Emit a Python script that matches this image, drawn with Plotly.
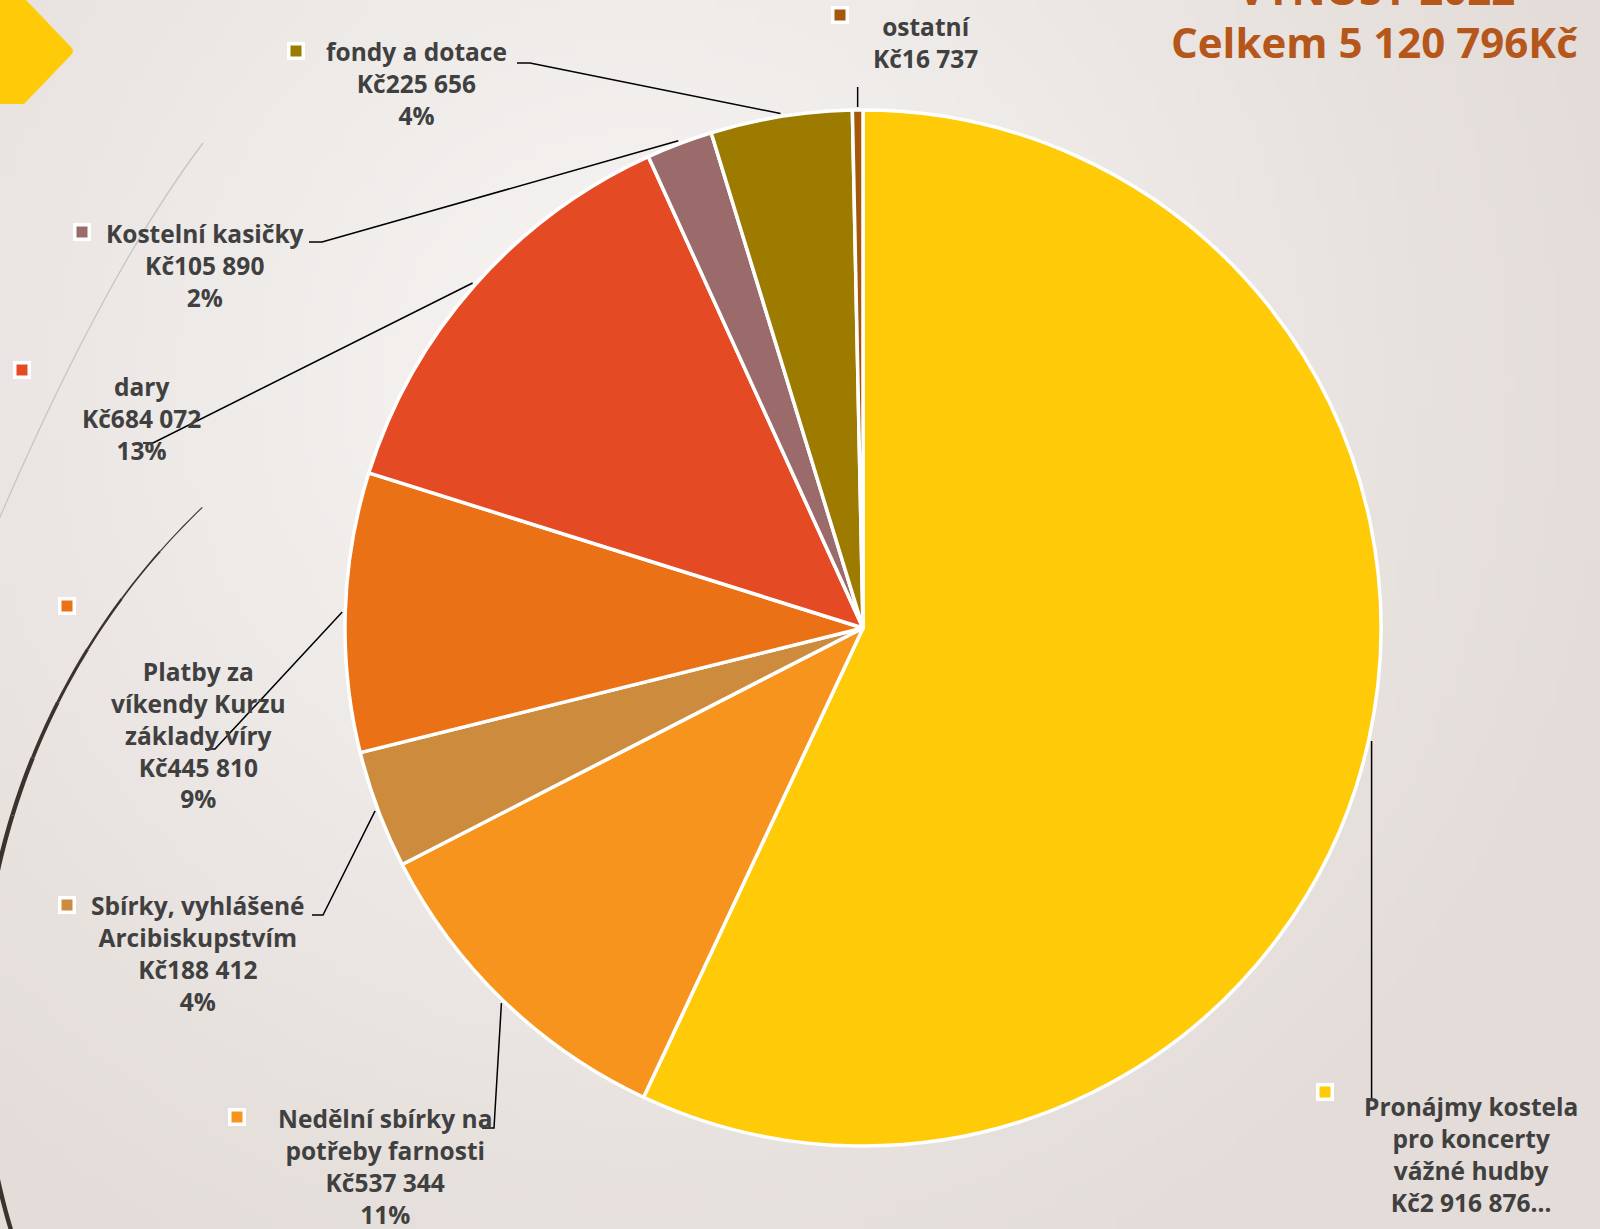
import base64, struct, zlib, textwrap, math
import numpy as np
import plotly.graph_objects as go

W, H = 1600, 1229

# ---------------- data ----------------
categories = ["Pronájmy kostela pro koncerty vážné hudby",
              "Nedělní sbírky na potřeby farnosti",
              "Sbírky, vyhlášené Arcibiskupstvím",
              "Platby za víkendy Kurzu základy víry",
              "dary",
              "Kostelní kasičky",
              "fondy a dotace",
              "ostatní"]
values = [2916876, 537344, 188412, 445810, 684072, 105890, 225656, 16737]
colors = ["#FFCA08", "#F7941D", "#CD8B3E", "#EB7117", "#E44A23", "#9B6A6A", "#9C7B00", "#A5570A"]
title_lines = ["VÝNOSY 2022", "Celkem 5 120 796Kč"]

# ---------------- layout (pixels) ----------------
CX, CY, R = 863, 628, 518
# per label: text centre x, first-line centre y, wrap width, show %, truncated, marker xy, leader points after slice edge
label_layout = [
    dict(cx=1471, y1=1104, wrap=16, pct=False, trunc=True,  mk=(1325, 1092), lead=[(None, 1100)]),
    dict(cx=385,  y1=1116, wrap=17, pct=True,  trunc=False, mk=(237, 1117),  lead=[(494, 1128), (482, 1128)]),
    dict(cx=198,  y1=903,  wrap=17, pct=True,  trunc=False, mk=(67, 905),    lead=[(323, 915), (312, 915)]),
    dict(cx=198,  y1=669,  wrap=13, pct=True,  trunc=False, mk=(67, 606),    lead=[(215, 749), (205, 749)]),
    dict(cx=141,  y1=384,  wrap=40, pct=True,  trunc=False, mk=(22, 370),    lead=[(153, 443), (143, 443)]),
    dict(cx=205,  y1=231,  wrap=40, pct=True,  trunc=False, mk=(82, 232),    lead=[(322, 242), (309, 242)]),
    dict(cx=416,  y1=49,   wrap=40, pct=True,  trunc=False, mk=(296, 51),    lead=[(530, 63), (517, 63)]),
    dict(cx=925,  y1=24,   wrap=40, pct=False, trunc=False, mk=(840, 15),    lead=[(None, 87)]),
]
FONT = "Open Sans"
FS = 24.5
LH = FS * 1.3
TXT = "#404040"


def px(x):
    return x / W


def py(y):
    return 1 - y / H


# ---------------- background gradient as PNG ----------------
def make_png(w, h, fn):
    raw = bytearray()
    for j in range(h):
        raw.append(0)
        for i in range(w):
            raw.extend(fn(i * W / (w - 1), j * H / (h - 1)))

    def chunk(tag, data):
        c = struct.pack(">I", len(data)) + tag + data
        return c + struct.pack(">I", zlib.crc32(tag + data) & 0xffffffff)

    png = b"\x89PNG\r\n\x1a\n" + chunk(b"IHDR", struct.pack(">IIBBBBB", w, h, 8, 2, 0, 0, 0))
    png += chunk(b"IDAT", zlib.compress(bytes(raw), 9)) + chunk(b"IEND", b"")
    return "data:image/png;base64," + base64.b64encode(png).decode()


light = (246, 244, 243)
dark = (227, 220, 216)


def bg(x, y):
    d = math.hypot(x - 640, y - 380) / 1000
    t = min(1.0, d) ** 1.1
    return bytes(int(round(light[k] + (dark[k] - light[k]) * t)) for k in range(3))


bg_src = make_png(160, 123, bg)

# ---------------- percentages (largest remainder, sum 100) ----------------
total = sum(values)
raw_pct = [v / total * 100 for v in values]
floors = [int(math.floor(p)) for p in raw_pct]
need = 100 - sum(floors)
order = sorted(range(len(values)), key=lambda i: raw_pct[i] - floors[i], reverse=True)
pcts = floors[:]
for i in order[:need]:
    pcts[i] += 1


def fmt_kc(v):
    return "Kč" + f"{v:,}".replace(",", " ")


# ---------------- figure ----------------
fig = go.Figure()
fig.add_trace(go.Pie(
    labels=categories, values=values, sort=False, direction="clockwise", rotation=0,
    marker=dict(colors=colors, line=dict(color="white", width=3.5)),
    textinfo="none", hoverinfo="label+value+percent", showlegend=False,
    domain=dict(x=[px(CX - R), px(CX + R)], y=[py(CY + R), py(CY - R)]),
))

shapes = []
annotations = []

# decorations
shapes.append(dict(type="path", xref="paper", yref="paper", layer="above",
                   path=f"M {px(0)} {py(0)} L {px(26)} {py(0)} L {px(71)} {py(47)} Q {px(75)} {py(51)} {px(71)} {py(55)} L {px(24)} {py(104)} L {px(0)} {py(104)} Z",
                   fillcolor="#FFCA08", line=dict(width=0)))
shapes.append(dict(type="path", xref="paper", yref="paper", layer="above",
                   path=f"M {px(203)} {py(143)} Q {px(100)} {py(280)} {px(-12)} {py(545)}",
                   line=dict(color="#C9C4C0", width=1.3)))
# tapered dark arc
acx, acy, ar = 697, 1025, 716
a0, a1 = math.radians(226.3), math.radians(158)
nseg = 14
for s in range(nseg):
    t0, t1 = s / nseg, (s + 1) / nseg
    angs = np.linspace(a0 + (a1 - a0) * t0, a0 + (a1 - a0) * t1, 8)
    pts = [(acx + ar * math.cos(a), acy + ar * math.sin(a)) for a in angs]
    path = "M " + " L ".join(f"{px(x)} {py(y)}" for x, y in pts)
    wdt = 0.8 + 3.6 * min(1.0, (t0 + t1) / 2 / 0.4)
    shapes.append(dict(type="path", xref="paper", yref="paper", layer="above", path=path,
                       line=dict(color="#3A322D", width=wdt)))

# labels, leader lines, markers
cum = 0
for i, (cat, v) in enumerate(zip(categories, values)):
    lay = label_layout[i]
    mid = (cum + v / 2) / total * 2 * math.pi
    cum += v
    sx = CX + (R + 3) * math.sin(mid)
    sy = CY - (R + 3) * math.cos(mid)
    pts = [(sx, sy)] + [((sx if x is None else x), y) for x, y in lay["lead"]]
    path = "M " + " L ".join(f"{px(x)} {py(y)}" for x, y in pts)
    shapes.append(dict(type="path", xref="paper", yref="paper", layer="above", path=path,
                       line=dict(color="black", width=1.5)))
    mx, my = lay["mk"]
    shapes.append(dict(type="rect", xref="paper", yref="paper", layer="above",
                       x0=px(mx - 9), x1=px(mx + 9), y0=py(my + 9), y1=py(my - 9),
                       fillcolor="white", line=dict(width=0)))
    shapes.append(dict(type="rect", xref="paper", yref="paper", layer="above",
                       x0=px(mx - 5.5), x1=px(mx + 5.5), y0=py(my + 5.5), y1=py(my - 5.5),
                       fillcolor=colors[i], line=dict(width=0)))
    lines = textwrap.wrap(cat, lay["wrap"])
    val = fmt_kc(v) + ("…" if lay["trunc"] else "")
    lines.append(val)
    if lay["pct"]:
        lines.append(f"{pcts[i]}%")
    annotations.append(dict(xref="paper", yref="paper", x=px(lay["cx"]), y=py(lay["y1"] - LH / 2),
                            xanchor="center", yanchor="top", showarrow=False, align="center",
                            text="<br>".join(lines),
                            font=dict(family=FONT, size=FS, color=TXT, weight="bold")))

# title
annotations.append(dict(xref="paper", yref="paper", x=px(1376), y=py(-12), xanchor="center", yanchor="middle",
                        showarrow=False, text=title_lines[0],
                        font=dict(family=FONT, size=42, color="#B5571B", weight="bold")))
annotations.append(dict(xref="paper", yref="paper", x=px(1374), y=py(41), xanchor="center", yanchor="middle",
                        showarrow=False, text=title_lines[1],
                        font=dict(family=FONT, size=42, color="#B5571B", weight="bold")))

fig.update_layout(
    width=W, height=H, margin=dict(l=0, r=0, t=0, b=0),
    paper_bgcolor="#EDE9E6", plot_bgcolor="rgba(0,0,0,0)",
    images=[dict(source=bg_src, xref="paper", yref="paper", x=0, y=1, sizex=1, sizey=1,
                 sizing="stretch", xanchor="left", yanchor="top", layer="below")],
    shapes=shapes, annotations=annotations,
)

fig.write_html("out.html", config={"displayModeBar": False},
               post_script="document.body.style.margin='0';document.body.style.overflow='hidden';")
